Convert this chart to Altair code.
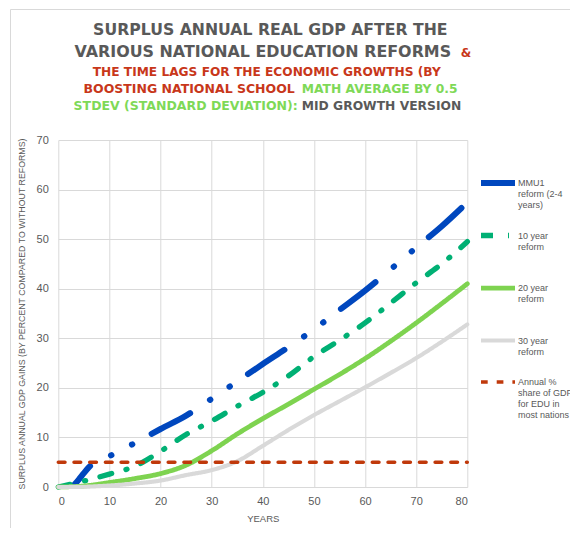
import altair as alt
import pandas as pd

# ---------------- data ----------------
series_names = [
    "MMU1|reform (2-4|years)| ",
    "10 year|reform| | ",
    "20 year|reform| | ",
    "30 year|reform| ",
    "Annual %|share of GDP|for EDU in|most nations",
]

mmu1_years = [3, 4, 5, 6, 10, 15, 20, 25, 30, 35, 40, 45, 50, 55, 60, 65, 70, 75, 80]
mmu1_gain = [0.3, 1.5, 2.8, 4.0, 6.2, 8.9, 11.7, 14.4, 17.8, 21.3, 24.8, 28.2, 31.8,
             35.7, 39.6, 43.9, 48.3, 52.6, 57.4]

years = [0, 5, 10, 15, 20, 25, 30, 35, 40, 45, 50, 55, 60, 65, 70, 75, 80]
ten_year_gain = [0, 1.2, 2.6, 4.2, 7.2, 10.6, 13.3, 16.3, 19.1, 22.4, 26.3, 29.6, 33.1,
                 37.1, 41.2, 45.0, 49.5]
twenty_year_gain = [0, 0.2, 0.9, 1.7, 2.7, 4.4, 7.3, 10.7, 13.8, 16.7, 19.7, 22.7, 25.9,
                    29.4, 33.1, 37.0, 41.0]
thirty_year_gain = [0, 0.05, 0.3, 0.7, 1.3, 2.4, 3.4, 5.2, 8.3, 11.5, 14.5, 17.3, 20.1,
                    23.0, 26.0, 29.3, 32.8]
edu_years = [0, 80]
edu_share = [5, 5]

x_ticks = [0, 10, 20, 30, 40, 50, 60, 70, 80]
y_ticks = [0, 10, 20, 30, 40, 50, 60, 70]

title_line1 = "SURPLUS ANNUAL REAL GDP AFTER THE"
title_line2a = "VARIOUS NATIONAL EDUCATION REFORMS"
title_line2b = "&"
title_line3 = "THE TIME LAGS FOR THE ECONOMIC GROWTHS (BY"
title_line4a = "BOOSTING NATIONAL SCHOOL"
title_line4b = "MATH AVERAGE BY 0.5"
title_line5a = "STDEV (STANDARD DEVIATION):"
title_line5b = "MID GROWTH  VERSION"

y_title = "SURPLUS ANNUAL GDP GAINS  (BY PERCENT COMPARED TO WITHOUT REFORMS)"
x_title = "YEARS"

# ---------------- table ----------------
rows = []
for xs, ys, name in [
    (mmu1_years, mmu1_gain, series_names[0]),
    (years, ten_year_gain, series_names[1]),
    (years, twenty_year_gain, series_names[2]),
    (years, thirty_year_gain, series_names[3]),
    (edu_years, edu_share, series_names[4]),
]:
    for a, b in zip(xs, ys):
        rows.append({"year": a, "gain": b, "series": name})
df = pd.DataFrame(rows)

# ---------------- styles ----------------
colors = ["#0047BE", "#00B074", "#7ED350", "#D9D9D9", "#C0390B"]
dashes = [[43.8, 23.75, 0.5, 23.1, 0.5, 21.9], [12, 15, 1, 15], [1, 0], [1, 0], [6.7, 9]]
widths = [6, 3.5, 3, 3.5, 4]
offsets = [18.5, 0, 0, 0, 0]

GRAY = "#595959"
AX_FONT = "Liberation Sans"

legend = alt.Legend(
    title=None, orient="none", legendX=419.7, legendY=37,
    symbolType="stroke", symbolSize=1156, clipHeight=12,
    labelExpr="split(datum.label, '|')", labelFont=AX_FONT, labelFontSize=9,
    labelColor=GRAY, labelBaseline="middle", labelOffset=0, rowPadding=8.5,
)

x_enc = alt.X("year:Q", scale=alt.Scale(domain=[0, 80], nice=False),
              axis=alt.Axis(values=x_ticks, title=x_title, grid=True, gridColor="#D9D9D9",
                            domain=False, ticks=False, labelColor=GRAY, labelFont=AX_FONT,
                            labelFontSize=11, labelPadding=8, titleFont=AX_FONT,
                            titleFontSize=9.5, titleFontWeight="normal", titleColor=GRAY,
                            titlePadding=7))
y_enc = alt.Y("gain:Q", scale=alt.Scale(domain=[0, 70], nice=False),
              axis=alt.Axis(values=y_ticks, title=y_title, grid=True, gridColor="#D9D9D9",
                            domain=False, ticks=False, labelColor=GRAY, labelFont=AX_FONT,
                            labelFontSize=11, labelPadding=10, titleFont=AX_FONT,
                            titleFontSize=8.8, titleFontWeight="normal", titleColor=GRAY,
                            titlePadding=10))

color_enc = alt.Color("series:N", scale=alt.Scale(domain=series_names, range=colors), legend=legend)
dash_enc = alt.StrokeDash("series:N", scale=alt.Scale(domain=series_names, range=dashes), legend=legend)
width_enc = alt.StrokeWidth("series:N", scale=alt.Scale(domain=series_names, range=widths), legend=legend)

# frame of chart area
frame = alt.Chart(pd.DataFrame({"k": [0]})).mark_rect(
    fill="transparent", stroke="#D9D9D9", strokeWidth=1
).encode(x=alt.value(-47.8), x2=alt.value(600), y=alt.value(-130.5), y2=alt.value(420))

line_layers = []
for name, off in zip(series_names, offsets):
    line_layers.append(
        alt.Chart(df).transform_filter(alt.datum.series == name)
        .mark_line(interpolate="monotone", strokeCap="round", strokeJoin="round",
                   strokeDashOffset=off)
        .encode(x=x_enc, y=y_enc, color=color_enc, strokeDash=dash_enc, strokeWidth=width_enc)
    )


def title_text(text, color, align, x, y, size):
    return alt.Chart(pd.DataFrame({"t": [text]})).mark_text(
        font="DejaVu Sans", fontWeight="bold", fontSize=size, color=color,
        align=align, baseline="alphabetic"
    ).encode(text="t:N", x=alt.value(x), y=alt.value(y))


RED = "#C8371A"
GREEN = "#7ED957"
titles = [
    title_text(title_line1, GRAY, "center", 212, -105, 15.7),
    title_text(title_line2a, GRAY, "center", 204.5, -83, 15.9),
    title_text(title_line2b, RED, "left", 402.5, -83, 12),
    title_text(title_line3, RED, "center", 208.5, -64, 12.2),
    title_text(title_line4a, RED, "right", 236.5, -47, 12.5),
    title_text(title_line4b, GREEN, "left", 243.5, -47, 12.3),
    title_text(title_line5a, GREEN, "right", 239.5, -30, 12.5),
    title_text(title_line5b, GRAY, "left", 243.5, -30, 12.3),
]

chart = alt.layer(frame, *line_layers, *titles).properties(
    width=409, height=347,
    autosize=alt.AutoSizeParams(type="none"),
    padding={"left": 50.3, "top": 132, "right": 102.7, "bottom": 41},
).configure_view(strokeWidth=0)

chart.save("out.html", embed_options={"renderer": "svg", "actions": False})
